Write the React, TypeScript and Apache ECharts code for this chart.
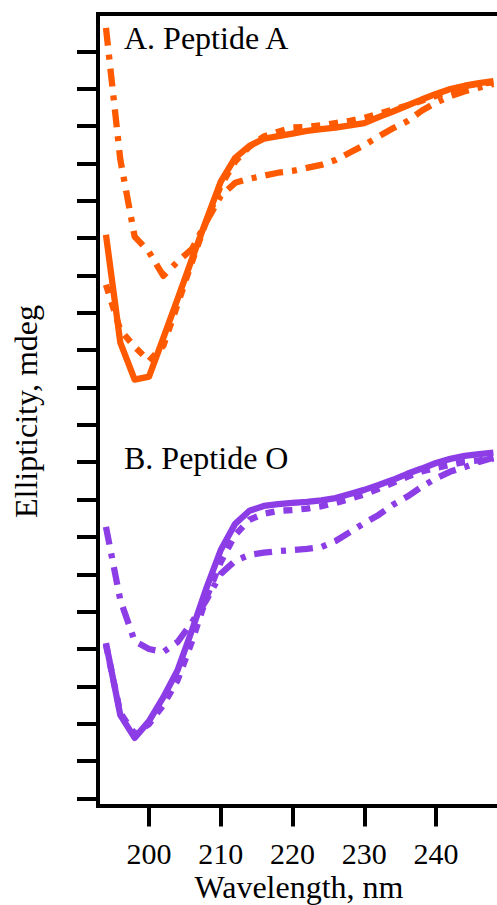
import React, { useEffect, useRef } from "react";
import * as echarts from "echarts";

// Wavelength grid (nm)
const wavelengths = [
  194, 196, 198, 200, 202, 204, 206, 208, 210, 212, 214, 216, 218, 220,
  222, 224, 226, 228, 230, 232, 234, 236, 238, 240, 242, 244, 246, 248,
];

// Ellipticity (in y-tick units; axis is unlabelled)
const peptideASolid = [
  15.09, 12.2, 11.21, 11.29, 12.33, 13.38, 14.45, 15.49, 16.51, 17.15, 17.47, 17.66, 17.73, 17.8,
  17.87, 17.92, 17.96, 18.02, 18.08, 18.24, 18.39, 18.55, 18.71, 18.86, 18.99, 19.08, 19.15, 19.2,
];
const peptideADashed = [
  13.75, 12.54, 12.09, 11.71, 12.12, 13.24, 14.37, 15.46, 16.4, 17.05, 17.45, 17.72, 17.85, 17.96,
  17.98, 18.02, 18.08, 18.14, 18.22, 18.33, 18.44, 18.55, 18.68, 18.81, 18.96, 19.07, 19.13, 19.17,
];
const peptideADashDot = [
  20.63, 17.1, 15.04, 14.63, 13.99, 14.37, 14.71, 15.44, 16.13, 16.48, 16.59, 16.67, 16.75, 16.8,
  16.88, 16.96, 17.09, 17.29, 17.49, 17.72, 17.94, 18.13, 18.41, 18.63, 18.8, 18.93, 19.03, 19.13,
];
const peptideOSolid = [
  4.16, 2.23, 1.62, 2.07, 2.71, 3.44, 4.51, 5.63, 6.65, 7.35, 7.7, 7.83, 7.88, 7.91,
  7.94, 7.98, 8.04, 8.15, 8.26, 8.39, 8.53, 8.69, 8.83, 8.98, 9.09, 9.17, 9.22, 9.26,
];
const peptideODashed = [
  4.11, 2.29, 1.72, 1.99, 2.5, 3.17, 4.21, 5.37, 6.33, 7.05, 7.46, 7.62, 7.7, 7.72,
  7.76, 7.82, 7.91, 8.02, 8.14, 8.29, 8.45, 8.61, 8.75, 8.85, 8.93, 9.01, 9.05, 9.09,
];
const peptideODashDot = [
  7.27, 5.31, 4.21, 4.0, 3.92, 4.19, 4.72, 5.31, 6.01, 6.36, 6.52, 6.58, 6.62, 6.65,
  6.68, 6.73, 6.89, 7.13, 7.37, 7.59, 7.86, 8.08, 8.34, 8.57, 8.75, 8.87, 9.01, 9.12,
];

const xTickValues = [200, 210, 220, 230, 240];
const yTickValues = [0, 1, 2, 3, 4, 5, 6, 7, 8, 9, 10, 11, 12, 13, 14, 15, 16, 17, 18, 19, 20];
const panelLabels = ["A. Peptide A", "B. Peptide O"];
const xTitle = "Wavelength, nm";
const yTitle = "Ellipticity, mdeg";

const ORANGE = "#FF5A00";
const PURPLE = "#8C3DE6";
const DASHED = [9, 9];
const DASHDOT = [18, 9, 5, 9];
const FONT = "Liberation Serif";

function pairs(values: number[]) {
  return wavelengths.map((w, i) => [w, values[i]]);
}

function lineSeries(name: string, values: number[], color: string, type: any, z: number) {
  return {
    name,
    type: "line",
    data: pairs(values),
    symbol: "none",
    showSymbol: false,
    smooth: false,
    clip: true,
    z,
    lineStyle: { color, width: 6.3, type, cap: "butt", join: "round" },
  };
}

function label(text: string, x: number, y: number, align: string, rotation = 0) {
  return {
    type: "text",
    x,
    y,
    rotation,
    style: {
      text,
      fontSize: 32,
      fontFamily: FONT,
      fill: "#000",
      align,
      verticalAlign: "middle",
    },
  };
}

export default function App() {
  const ref = useRef<HTMLDivElement>(null);

  useEffect(() => {
    if (!ref.current) return;
    const chart = echarts.init(ref.current, undefined, { renderer: "svg" });
    const xMin = 192.89;
    const xMax = 248.5;
    const axisLine = { show: true, onZero: false, lineStyle: { color: "#000", width: 4, cap: "square" } };
    chart.setOption({
      animation: false,
      backgroundColor: "#ffffff",
      textStyle: { fontFamily: FONT },
      grid: { left: 98, right: 0, top: 14, bottom: 99.5, containLabel: false },
      xAxis: [
        {
          type: "value",
          position: "bottom",
          min: xMin,
          max: xMax,
          axisLine,
          axisTick: {
            show: true,
            inside: false,
            length: 21,
            customValues: xTickValues,
            lineStyle: { color: "#000", width: 4 },
          },
          axisLabel: {
            show: true,
            customValues: xTickValues,
            margin: 33,
            color: "#000",
            fontSize: 30,
            fontFamily: FONT,
            formatter: (v: number) => String(Math.round(v)),
          },
          splitLine: { show: false },
        },
        {
          type: "value",
          position: "top",
          min: xMin,
          max: xMax,
          axisLine,
          axisTick: { show: false },
          axisLabel: { show: false },
          splitLine: { show: false },
        },
      ],
      yAxis: {
        type: "value",
        min: -0.19,
        max: 21,
        axisLine,
        axisTick: {
          show: true,
          inside: false,
          length: 21,
          customValues: yTickValues,
          lineStyle: { color: "#000", width: 4 },
        },
        axisLabel: { show: false },
        splitLine: { show: false },
      },
      graphic: [
        label(panelLabels[0], 124, 37.5, "left"),
        label(panelLabels[1], 124, 457.5, "left"),
        label(xTitle, 299, 887, "center"),
        label(yTitle, 26, 411.5, "center", Math.PI / 2),
      ],
      series: [
        lineSeries("Peptide A solid", peptideASolid, ORANGE, "solid", 2),
        lineSeries("Peptide A dash-dot", peptideADashDot, ORANGE, DASHDOT, 3),
        lineSeries("Peptide A dashed", peptideADashed, ORANGE, DASHED, 4),
        lineSeries("Peptide O solid", peptideOSolid, PURPLE, "solid", 2),
        lineSeries("Peptide O dash-dot", peptideODashDot, PURPLE, DASHDOT, 3),
        lineSeries("Peptide O dashed", peptideODashed, PURPLE, DASHED, 4),
      ],
    });
    return () => chart.dispose();
  }, []);

  return (
    <div
      ref={ref}
      style={{ position: "absolute", left: 0, top: 0, width: 497, height: 905, background: "#fff" }}
    />
  );
}
